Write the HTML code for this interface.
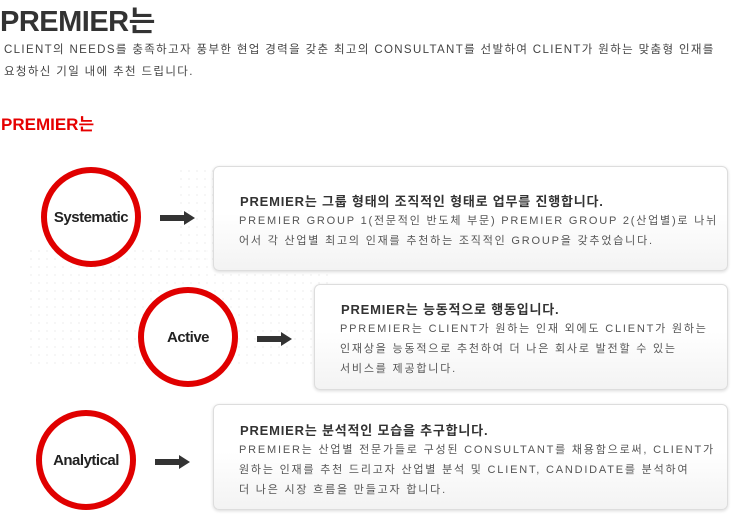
<!DOCTYPE html>
<html><head><meta charset="utf-8"><style>
body{margin:0;width:740px;height:530px;background:#fff;position:relative;overflow:hidden;font-family:"Liberation Sans","Noto Sans CJK KR",sans-serif;}
.a{position:absolute;white-space:nowrap}
.h1{left:0;top:-2px;font-size:29px;font-weight:bold;color:#333;letter-spacing:-0.5px}
.p{left:4px;font-size:11.5px;color:#444;letter-spacing:1.35px}
.h2{left:1px;top:110px;font-size:17px;font-weight:bold;color:#e60000}
.c{position:absolute;width:88px;height:88px;border:6px solid #e00000;border-radius:50%;background:#fff;display:flex;align-items:center;justify-content:center;font-size:15px;font-weight:bold;color:#222;letter-spacing:-0.5px}
.box{position:absolute;border:1px solid #ddd;border-radius:6px;background:linear-gradient(#fff 0%,#fff 45%,#f3f3f3 100%);box-shadow:0 1px 3px rgba(0,0,0,0.15)}
.t{font-size:13px;font-weight:bold;color:#333;position:absolute;white-space:nowrap;letter-spacing:0.8px}
.d{font-size:11px;color:#555;position:absolute;white-space:nowrap;line-height:20px;letter-spacing:1.8px}
.ar{position:absolute;width:36px;height:14px}
.map{position:absolute;background-image:linear-gradient(90deg,transparent 2px,#fff 2px),linear-gradient(transparent 2px,#fff 2px);background-color:#f3f3f3;background-size:8px 8px;}
</style></head><body>
<div class="map" style="left:30px;top:250px;width:300px;height:120px;opacity:.7"></div>
<div class="map" style="left:180px;top:170px;width:130px;height:90px;opacity:.7"></div>
<div class="a h1">PREMIER는</div>
<div class="a p" style="top:41px">CLIENT의 NEEDS를 충족하고자 풍부한 현업 경력을 갖춘 최고의 CONSULTANT를 선발하여 CLIENT가 원하는 맞춤형 인재를</div>
<div class="a p" style="top:63px">요청하신 기일 내에 추천 드립니다.</div>
<div class="a h2">PREMIER는</div>

<div class="c" style="left:41px;top:167px">Systematic</div>
<div class="c" style="left:138px;top:287px">Active</div>
<div class="c" style="left:36px;top:410px">Analytical</div>

<svg class="ar" style="left:160px;top:211px" viewBox="0 0 36 14"><polygon points="0,4 24,4 24,0 35,7 24,14 24,10 0,10" fill="#333"/></svg>
<svg class="ar" style="left:257px;top:332px" viewBox="0 0 36 14"><polygon points="0,4 24,4 24,0 35,7 24,14 24,10 0,10" fill="#333"/></svg>
<svg class="ar" style="left:155px;top:455px" viewBox="0 0 36 14"><polygon points="0,4 24,4 24,0 35,7 24,14 24,10 0,10" fill="#333"/></svg>

<div class="box" style="left:213px;top:166px;width:513px;height:103px">
<div class="t" style="left:26px;top:24px">PREMIER는 그룹 형태의 조직적인 형태로 업무를 진행합니다.</div>
<div class="d" style="left:25px;top:44px">PREMIER GROUP 1(전문적인 반도체 부문) PREMIER GROUP 2(산업별)로 나뉘<br>어서 각 산업별 최고의 인재를 추천하는 조직적인 GROUP을 갖추었습니다.</div>
</div>
<div class="box" style="left:314px;top:284px;width:412px;height:104px">
<div class="t" style="left:26px;top:14px">PREMIER는 능동적으로 행동입니다.</div>
<div class="d" style="left:25px;top:34px">PPREMIER는 CLIENT가 원하는 인재 외에도 CLIENT가 원하는<br>인재상을 능동적으로 추천하여 더 나은 회사로 발전할 수 있는<br>서비스를 제공합니다.</div>
</div>
<div class="box" style="left:213px;top:404px;width:513px;height:104px">
<div class="t" style="left:26px;top:15px">PREMIER는 분석적인 모습을 추구합니다.</div>
<div class="d" style="left:25px;top:35px">PREMIER는 산업별 전문가들로 구성된 CONSULTANT를 채용함으로써, CLIENT가<br>원하는 인재를 추천 드리고자 산업별 분석 및 CLIENT, CANDIDATE를 분석하여<br>더 나은 시장 흐름을 만들고자 합니다.</div>
</div>
</body></html>
